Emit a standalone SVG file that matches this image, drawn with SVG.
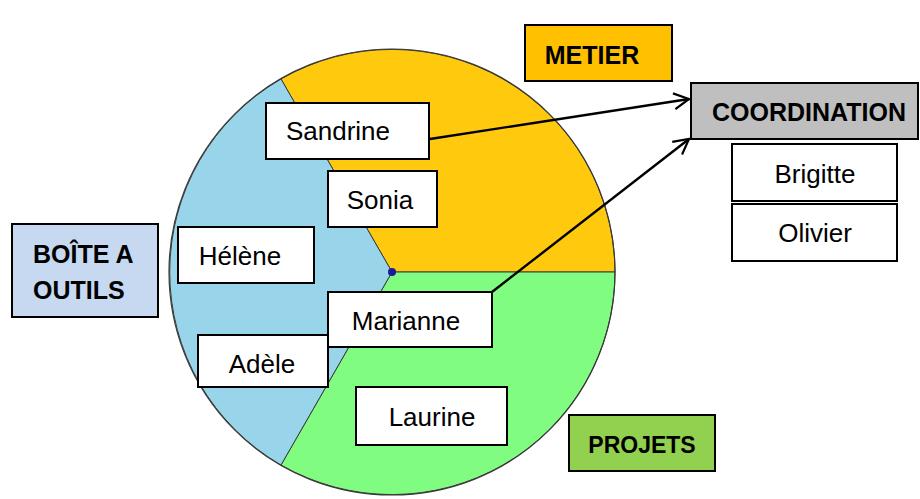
<svg xmlns="http://www.w3.org/2000/svg" width="920" height="499" viewBox="0 0 920 499">
<defs>
<marker id="arr" markerUnits="userSpaceOnUse" markerWidth="20" markerHeight="20" refX="17" refY="9" orient="auto" viewBox="0 0 20 18">
<path d="M2,1 L17,9 L2,17" fill="none" stroke="#000" stroke-width="2.2"/>
</marker>
<style>
.box{fill:#fff;stroke:#000;stroke-width:2}
.t{font-family:"Liberation Sans",Arial,sans-serif;font-size:26px;fill:#000;text-anchor:middle}
.b{font-family:"Liberation Sans",Arial,sans-serif;font-size:25px;font-weight:bold;fill:#000}
.seg{stroke:#3a3a3a;stroke-width:1}
.conn{stroke:#000;stroke-width:2.4;fill:none;marker-end:url(#arr)}
</style>
</defs>
<rect width="920" height="499" fill="#fff"/>
<g id="pie">
<path d="M392,272 L281,79 A223,223 0 0 1 615,272 Z" fill="#FFC90E" class="seg"/>
<path d="M392,272 L615,272 A223,223 0 0 1 281,465 Z" fill="#80FC80" class="seg"/>
<path d="M392,272 L281,465 A223,223 0 0 1 281,79 Z" fill="#99D5EA" class="seg"/>
<circle cx="392" cy="272" r="223" fill="none" stroke="#3a3a3a" stroke-width="1.2"/>
<circle cx="392" cy="272" r="4" fill="#1a1a9a"/>
</g>
<g id="connectors">
<line x1="430" y1="139" x2="689" y2="99" class="conn"/>
<line x1="492" y1="292" x2="689" y2="139" class="conn"/>
</g>
<g id="sandrine"><rect x="266" y="103" width="163" height="56" class="box"/><text x="338" y="140" class="t">Sandrine</text></g>
<g id="sonia"><rect x="328" y="171" width="109" height="56" class="box"/><text x="380" y="209" class="t">Sonia</text></g>
<g id="helene"><rect x="178" y="227" width="136" height="56" class="box"/><text x="240" y="265" class="t">Hélène</text></g>
<g id="marianne"><rect x="328" y="292" width="164" height="55" class="box"/><text x="406" y="330" class="t">Marianne</text></g>
<g id="adele"><rect x="198" y="335" width="130" height="52" class="box"/><text x="262" y="373" class="t">Adèle</text></g>
<g id="laurine"><rect x="356" y="387" width="151" height="58" class="box"/><text x="432" y="426" class="t">Laurine</text></g>
<g id="metier"><rect x="525" y="25" width="147" height="56" fill="#FFC000" stroke="#000" stroke-width="2"/><text x="592" y="64" class="b" text-anchor="middle">METIER</text></g>
<g id="coordination"><rect x="691" y="83" width="227" height="56" fill="#BFBFBF" stroke="#000" stroke-width="2"/><text x="809" y="121" class="b" text-anchor="middle">COORDINATION</text></g>
<g id="brigitte"><rect x="732" y="144" width="165" height="57" class="box"/><text x="815" y="183" class="t">Brigitte</text></g>
<g id="olivier"><rect x="732" y="204" width="165" height="57" class="box"/><text x="815" y="242" class="t">Olivier</text></g>
<g id="boite"><rect x="12" y="224" width="146" height="93" fill="#C6D9F1" stroke="#000" stroke-width="2"/><text x="33" y="263" class="b">BOÎTE A</text><text x="33" y="299" class="b">OUTILS</text></g>
<g id="projets"><rect x="569" y="415" width="146" height="56" fill="#92D050" stroke="#000" stroke-width="2"/><text x="642" y="453" class="b" text-anchor="middle" style="font-size:23px">PROJETS</text></g>
</svg>
